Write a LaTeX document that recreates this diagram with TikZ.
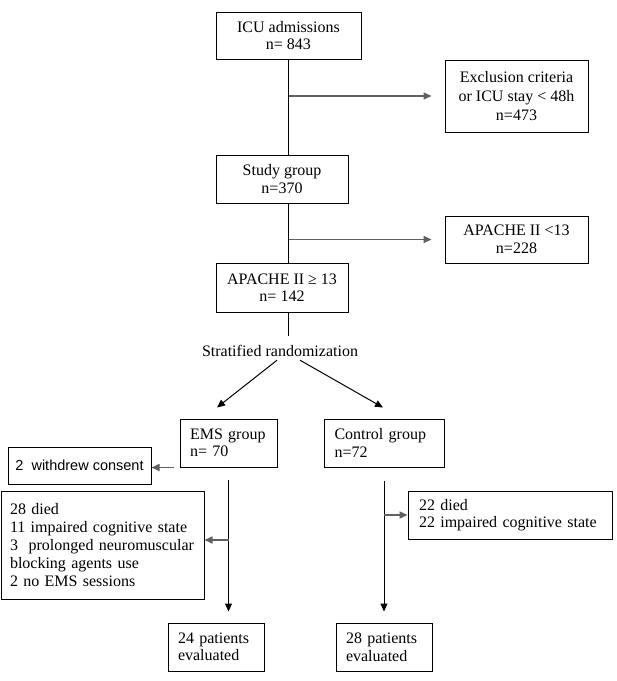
\documentclass[tikz,border=0pt]{standalone}
\usepackage{fontspec}
\setmainfont{Liberation Serif}
\newfontfamily\sansfont{Liberation Sans}
\usetikzlibrary{arrows.meta,positioning}
\definecolor{arrowgray}{RGB}{96,96,96}

\begin{document}
\begin{tikzpicture}[x=1pt, y=-1pt, >={Triangle[length=8pt,width=7pt]},
                line width=1pt, font=\fontsize{16}{17.5}\selectfont,
                box/.style={draw, align=center, inner sep=0pt},
                lbox/.style={draw, align=left, inner xsep=10pt, inner ysep=0pt},
                side/.style={->, draw=arrowgray, line width=1.6pt}]

  \useasboundingbox (0,0) rectangle (617,681);

  % screening
  \node[box, minimum width=145pt, minimum height=47pt] (icu) at (288.5,35.5) {ICU admissions\\n= 843};
  \node[box, minimum width=143pt, minimum height=72pt] (excl) at (516.5,96) {Exclusion criteria\\[1.5pt]or ICU stay < 48h\\[1.5pt]n=473};
  \node[box, minimum width=132pt, minimum height=48pt] (study) at (282,179) {Study group\\n=370};
  \node[box, minimum width=143pt, minimum height=47pt] (aplow) at (516.5,239.5) {APACHE II <13\\n=228};
  \node[box, minimum width=132pt, minimum height=49pt] (aphigh) at (282,287.5) {APACHE II ≥ 13\\n= 142};
  \node[inner sep=3pt] (rand) at (280,351) {Stratified randomization};

  % groups
  \node[lbox, text width=77pt, minimum height=48pt] (ems) at (228.5,443) {EMS group\\n= 70};
  \node[lbox, text width=99pt, inner xsep=10.5pt, minimum height=48pt] (ctrl) at (384,443) {Control group\\n=72};
  \node[draw, inner sep=0pt, minimum width=143pt, minimum height=37pt,
        font=\sansfont\fontsize{14.5}{17}\selectfont] (withdrew) at (79.5,465.5) {2~~withdrew consent};
  \node[lbox, text width=185pt, inner xsep=9pt, minimum height=108pt,
        font=\fontsize{16}{18}\selectfont] (lost) at (102.5,545) {28 died\\11 impaired cognitive state\\3~~prolonged neuromuscular\\blocking agents use\\2 no EMS sessions};
  \node[lbox, text width=182pt, inner xsep=11pt, minimum height=48pt] (died) at (510,515) {22 died\\22 impaired cognitive state};
  \node[lbox, text width=76pt, minimum height=48pt] (evalems) at (216,647) {24 patients\\evaluated};
  \node[lbox, text width=76pt, minimum height=48pt] (evalctrl) at (384,647) {28 patients\\evaluated};

  \coordinate (emssplit) at (228.5,540);

  % main line
  \draw (icu.south) -- (icu.south |- study.north);
  \draw (icu.south |- study.south) -- (icu.south |- aphigh.north);
  \draw[shorten >=6pt] (icu.south |- aphigh.south) -- (icu.south |- rand.north);
  \draw[side] (icu.south |- excl.west) -- ([xshift=-13pt]excl.west);
  \draw[side] (icu.south |- aplow.west) -- ([xshift=-13pt]aplow.west);

  % randomization
  \draw[->] ([xshift=-3pt]rand.south) -- ([xshift=-11.5pt,yshift=11pt]ems.north);
  \draw[->] ([xshift=20pt]rand.south) -- ([xshift=-1pt,yshift=11pt]ctrl.north);

  % follow-up
  \draw[->, shorten <=12pt, shorten >=11pt] (ems.south) -- (ems.south |- evalems.north);
  \draw[side] ([xshift=-6pt]ems.south west) -- (withdrew.east |- ems.south);
  \draw[side] (emssplit) -- (emssplit -| lost.east);
  \draw[->, shorten <=13pt, shorten >=11pt] (ctrl.south) -- (ctrl.south |- evalctrl.north);
  \draw[side] (ctrl.south |- died.west) -- (died.west);
\end{tikzpicture}
\end{document}
